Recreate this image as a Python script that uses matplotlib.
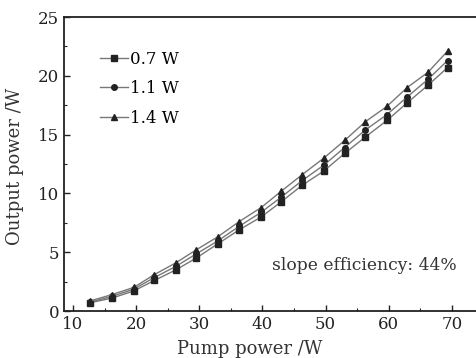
import matplotlib
matplotlib.use("Agg")
import matplotlib.pyplot as plt
from matplotlib.ticker import MultipleLocator

pump = [12.7, 16.2, 19.6, 22.9, 26.3, 29.5, 32.9, 36.3, 39.8, 43.0, 46.3, 49.7, 53.0, 56.3, 59.7, 62.9, 66.2, 69.3]
out_07 = [0.7, 1.1, 1.7, 2.6, 3.5, 4.5, 5.7, 6.9, 8.0, 9.3, 10.7, 11.9, 13.4, 14.8, 16.2, 17.7, 19.2, 20.7]
out_11 = [0.75, 1.25, 1.85, 2.85, 3.8, 4.85, 5.95, 7.2, 8.4, 9.7, 11.1, 12.4, 13.9, 15.4, 16.7, 18.2, 19.7, 21.3]
out_14 = [0.85, 1.4, 2.0, 3.1, 4.1, 5.2, 6.3, 7.6, 8.8, 10.2, 11.6, 13.0, 14.5, 16.1, 17.4, 19.0, 20.3, 22.1]
labels = ["0.7 W", "1.1 W", "1.4 W"]

plt.rcParams['font.family'] = ['DejaVu Serif']

fig = plt.figure(figsize=(4.76, 3.58), dpi=100)
ax = fig.add_axes([64/476, 1-311/358, 1-64/476, (311-17)/358])

series = [(out_07, 's'), (out_11, 'o'), (out_14, '^')]
for (ys, mk), lab in zip(series, labels):
    ax.plot(pump, ys, color='#777777', lw=1.0, marker=mk, markersize=4,
            markerfacecolor='#222222', markeredgecolor='#222222', label=lab)

ax.set_xlim(8.58, 73.8)
ax.set_ylim(0, 25)
ax.xaxis.set_major_locator(MultipleLocator(10))
ax.xaxis.set_minor_locator(MultipleLocator(5))
ax.yaxis.set_major_locator(MultipleLocator(5))
ax.yaxis.set_minor_locator(MultipleLocator(2.5))
ax.tick_params(which='both', direction='in', top=False, right=False, labelsize=12, colors='#222222')
ax.tick_params(which='major', length=4, width=1)
ax.tick_params(which='minor', length=2, width=0.8)
ax.spines['right'].set_visible(False)
for s in ['left', 'bottom', 'top']:
    ax.spines[s].set_linewidth(1.3)
    ax.spines[s].set_color('#222222')

ax.legend(loc='upper left', bbox_to_anchor=(0.087, 0.886), frameon=False, fontsize=12,
          handlelength=1.7, handletextpad=0.1, labelspacing=0.75, borderaxespad=0,
          borderpad=0)

ax.text(41.5, 3.9, "slope efficiency: 44%", fontsize=12.3, va='center', ha='left', color='#333333')

fig.text(250/476, 1-349/358, "Pump power /W", ha='center', va='center', fontsize=13, color='#333333')
fig.text(15/476, 1-166/358, "Output power /W", ha='center', va='center', rotation=90, fontsize=13, color='#333333')

fig.savefig("out.png", dpi=100)
